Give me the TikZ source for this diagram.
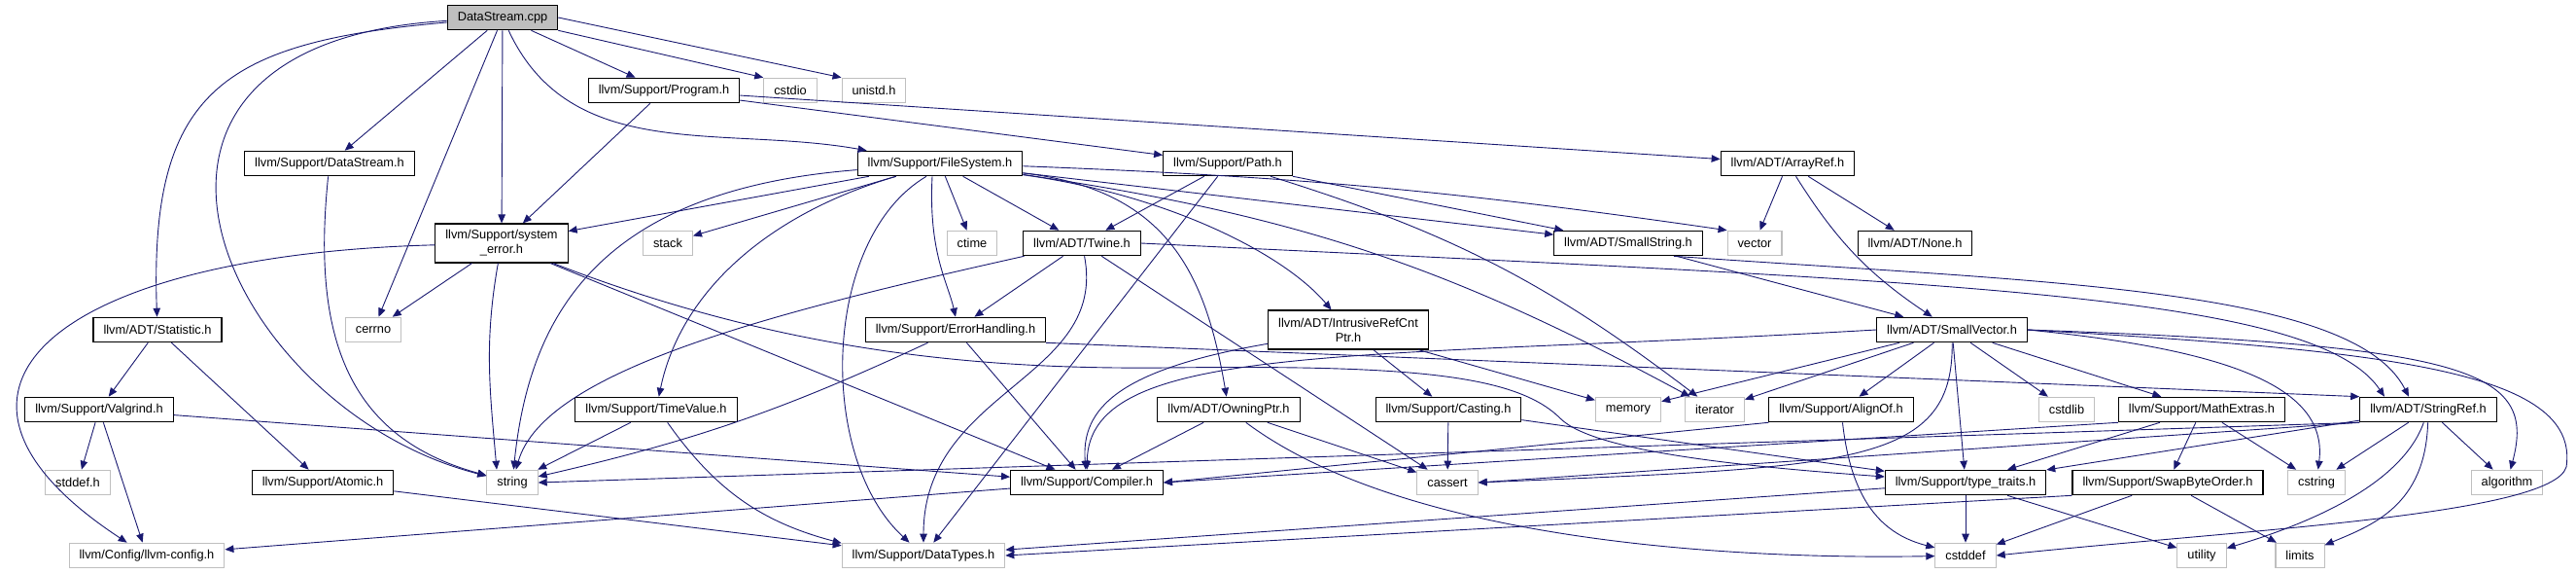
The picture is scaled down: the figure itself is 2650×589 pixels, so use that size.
\documentclass[tikz,border=0pt]{standalone}
\usepackage{fontspec}
\setmainfont{Liberation Sans}
\usepackage{tikz}
\usetikzlibrary{arrows.meta,positioning}
\definecolor{edgeblue}{HTML}{191970}
\definecolor{sysgray} {HTML}{BFBFBF}

\begin{document}
\begin{tikzpicture}[
  hdr/.style ={draw=black,fill=white,line width=1.1pt,inner xsep=10.5pt,inner ysep=2pt,
               minimum height=25.5pt,align=center,font=\fontsize{12.8}{15}\selectfont},
  sys/.style ={hdr,draw=sysgray},
  root/.style={hdr,fill=sysgray},
  two/.style ={hdr,minimum height=40pt},
  arr/.style ={-{Triangle[length=9pt,width=7.5pt]},line width=0.9pt,color=edgeblue},
  x=1pt, y=1pt
]
\useasboundingbox (0,0) rectangle (2650,-589);
%% Row 0: the source file
\node[root] (cpp) at (517,-18) {DataStream.cpp};
%% Row 1
\node[hdr] (program) at (683,-93) {llvm/Support/Program.h};
\node[sys] (cstdio)  at (813,-93) {cstdio};
\node[sys] (unistd)  at (899,-93) {unistd.h};
%% Row 2
\node[hdr] (dsh)      at (339,-168)  {llvm/Support/DataStream.h};
\node[hdr] (filesys)  at (967,-168)  {llvm/Support/FileSystem.h};
\node[hdr] (path)     at (1263,-168) {llvm/Support/Path.h};
\node[hdr] (arrayref) at (1839,-168) {llvm/ADT/ArrayRef.h};
%% Row 3
\node[two] (syserr)   at (516,-250)  {llvm/Support/system\\\_error.h};
\node[sys] (stack)    at (687,-250)  {stack};
\node[sys] (ctime)    at (1000,-250) {ctime};
\node[hdr] (twine)    at (1113,-250) {llvm/ADT/Twine.h};
\node[hdr] (smallstr) at (1675,-250) {llvm/ADT/SmallString.h};
\node[sys] (vector)   at (1805,-250) {vector};
\node[hdr] (none)     at (1970,-250) {llvm/ADT/None.h};
%% Row 4
\node[hdr] (statistic) at (162,-339)  {llvm/ADT/Statistic.h};
\node[sys] (cerrno)    at (384,-339)  {cerrno};
\node[hdr] (errhand)   at (983,-339)  {llvm/Support/ErrorHandling.h};
\node[two] (intrusive) at (1387,-339) {llvm/ADT/IntrusiveRefCnt\\Ptr.h};
\node[hdr] (smallvec)  at (2008,-339) {llvm/ADT/SmallVector.h};
%% Row 5
\node[hdr] (valgrind)  at (102,-421)  {llvm/Support/Valgrind.h};
\node[hdr] (timevalue) at (675,-421)  {llvm/Support/TimeValue.h};
\node[hdr] (owning)    at (1264,-421) {llvm/ADT/OwningPtr.h};
\node[hdr] (casting)   at (1490,-421) {llvm/Support/Casting.h};
\node[sys] (memory)    at (1675,-421) {memory};
\node[sys] (iterator)  at (1764,-421) {iterator};
\node[hdr] (alignof)   at (1894,-421) {llvm/Support/AlignOf.h};
\node[sys] (cstdlib)   at (2126,-421) {cstdlib};
\node[hdr] (mathext)   at (2265,-421) {llvm/Support/MathExtras.h};
\node[hdr] (stringref) at (2498,-421) {llvm/ADT/StringRef.h};
%% Row 6
\node[sys] (stddef)     at (80,-496)   {stddef.h};
\node[hdr] (atomic)     at (332,-496)  {llvm/Support/Atomic.h};
\node[sys] (string)     at (527,-496)  {string};
\node[hdr] (compiler)   at (1118,-496) {llvm/Support/Compiler.h};
\node[sys] (cassert)    at (1489,-496) {cassert};
\node[hdr] (typetraits) at (2022,-496) {llvm/Support/type\_traits.h};
\node[hdr] (swap)       at (2230,-496) {llvm/Support/SwapByteOrder.h};
\node[sys] (cstring)    at (2383,-496) {cstring};
\node[sys] (algorithm)  at (2579,-496) {algorithm};
%% Row 7
\node[sys] (llvmconfig) at (151,-571)  {llvm/Config/llvm-config.h};
\node[sys] (datatypes)  at (950,-571)  {llvm/Support/DataTypes.h};
\node[sys] (cstddef)    at (2022,-571) {cstddef};
\node[sys] (utility)    at (2265,-571) {utility};
\node[sys] (limits)     at (2366,-571) {limits};
%% DataStream.cpp
\draw[arr] (cpp) to[out=185,in=92,looseness=1.4] (statistic);
\draw[arr] (cpp) .. controls (60,-45) and (230,-420) .. (string);
\draw[arr] (cpp) -- (dsh);
\draw[arr] (cpp) -- (cerrno);
\draw[arr] (cpp) -- (syserr);
\draw[arr] (cpp) to[out=-65,in=170] (filesys);
\draw[arr] (cpp) -- (program);
\draw[arr] (cpp.south east) -- (cstdio.north west);
\draw[arr] (cpp.east) -- (unistd.north west);
%% Program.h
\draw[arr] (program) -- (syserr);
\draw[arr] (program) -- (path);
\draw[arr] (program) -- (arrayref);
%% DataStream.h
\draw[arr] (dsh) .. controls (320,-350) and (360,-450) .. (string);
%% FileSystem.h
\draw[arr] (filesys) -- (syserr);
\draw[arr] (filesys) -- (stack);
\draw[arr] (filesys) .. controls (620,-195) and (545,-320) .. (string);
\draw[arr] (filesys) .. controls (790,-220) and (700,-300) .. (timevalue);
\draw[arr] ([xshift=-14pt]filesys.south) .. controls (845,-245) and (840,-470) .. (datatypes);
\draw[arr] ([xshift=-8pt]filesys.south) .. controls (955,-260) and (975,-290) .. (errhand.north);
\draw[arr] (filesys) -- (ctime);
\draw[arr] (filesys) -- (twine);
\draw[arr] (filesys) .. controls (1200,-200) and (1320,-260) .. (intrusive);
\draw[arr] (filesys) .. controls (1200,-195) and (1240,-280) .. (owning);
\draw[arr] (filesys) to[bend left=10] (iterator);
\draw[arr] (filesys) -- (smallstr);
\draw[arr] (filesys) to[bend left=3] (vector.north west);
%% Path.h
\draw[arr] (path) -- (smallstr);
\draw[arr] (path) -- (twine);
\draw[arr] (path) -- (datatypes);
\draw[arr] (path) to[bend left=10] (iterator);
%% ArrayRef.h
\draw[arr] (arrayref) -- (vector);
\draw[arr] (arrayref) -- (none);
\draw[arr] (arrayref) to[bend right=12] (smallvec);
%% system_error.h
\draw[arr] (syserr) .. controls (60,-262) and (-110,-400) .. (llvmconfig);
\draw[arr] (syserr) -- (cerrno);
\draw[arr] (syserr) to[out=-100,in=95] ([xshift=-16pt]string.north);
\draw[arr] (syserr) -- (compiler);
\draw[arr] (syserr) .. controls (800,-360) and (1000,-380) .. (1200,-378)
  .. controls (1450,-375) and (1560,-385) .. (1605,-430)
  .. controls (1640,-465) and (1800,-480) .. (typetraits);
%% Statistic.h, Valgrind.h, Atomic.h
\draw[arr] (statistic) -- (valgrind);
\draw[arr] (statistic) -- (atomic);
\draw[arr] (valgrind) -- (stddef);
\draw[arr] (valgrind) -- (llvmconfig);
\draw[arr] (valgrind) -- (compiler);
\draw[arr] (atomic) -- (datatypes);
%% TimeValue.h
\draw[arr] (timevalue) -- (string);
\draw[arr] (timevalue) to[bend right=20] (datatypes);
%% Twine.h
\draw[arr] (twine) .. controls (800,-320) and (560,-380) .. (string);
\draw[arr] (twine) -- (errhand);
\draw[arr] (twine) .. controls (1140,-390) and (950,-400) .. (datatypes);
\draw[arr] (twine) -- (cassert);
\draw[arr] (twine.east) .. controls (2000,-290) and (2380,-300) .. ([xshift=-45pt]stringref.north);
%% SmallString.h
\draw[arr] (smallstr) -- (smallvec);
\draw[arr] ([xshift=-30pt]smallstr.south east) .. controls (2100,-290) and (2420,-295)
  .. ([xshift=-20pt]stringref.north);
%% ErrorHandling.h
\draw[arr] (errhand) to[bend left=6] (string);
\draw[arr] (errhand) -- (compiler);
\draw[arr] (errhand.south east) -- (stringref.north west);
%% IntrusiveRefCntPtr.h, OwningPtr.h, Casting.h
\draw[arr] (intrusive) -- (casting);
\draw[arr] (intrusive) .. controls (1150,-380) and (1112,-420) .. (compiler);
\draw[arr] (intrusive) -- (memory);
\draw[arr] (owning) -- (compiler);
\draw[arr] (owning) -- (cassert);
\draw[arr] (owning) .. controls (1450,-560) and (1800,-575) .. (cstddef);
\draw[arr] (casting) -- (typetraits);
\draw[arr] (casting) -- (cassert);
%% SmallVector.h
\draw[arr] (smallvec.west) .. controls (1400,-370) and (1120,-350) .. (compiler);
\draw[arr] (smallvec) -- (memory);
\draw[arr] (smallvec) -- (iterator);
\draw[arr] (smallvec) -- (alignof);
\draw[arr] (smallvec) .. controls (2010,-480) and (1900,-480) .. (cassert.east);
\draw[arr] (smallvec) -- (typetraits);
\draw[arr] (smallvec) -- (cstdlib);
\draw[arr] (smallvec) -- (mathext);
\draw[arr] (smallvec.east) .. controls (2300,-360) and (2395,-400) .. (cstring);
\draw[arr] (smallvec.east) .. controls (2540,-355) and (2610,-380) .. (algorithm);
\draw[arr] (smallvec.east) .. controls (2450,-360) and (2655,-380) .. (2640,-480)
  .. controls (2625,-530) and (2300,-545) .. (cstddef.east);
%% AlignOf.h, MathExtras.h
\draw[arr] (alignof.south west) -- (compiler.east);
\draw[arr] (alignof) .. controls (1905,-520) and (1940,-550) .. (cstddef);
\draw[arr] (mathext.south west) -- (compiler.east);
\draw[arr] (mathext) -- (typetraits);
\draw[arr] (mathext) -- (swap);
\draw[arr] (mathext) -- (cstring);
%% StringRef.h
\draw[arr] (stringref.south west) -- (string.east);
\draw[arr] (stringref.south west) -- (cassert.east);
\draw[arr] (stringref) -- (typetraits);
\draw[arr] (stringref) -- (cstring);
\draw[arr] (stringref) -- (algorithm);
\draw[arr] (stringref) .. controls (2470,-500) and (2370,-540) .. (utility);
\draw[arr] (stringref) .. controls (2495,-520) and (2440,-540) .. (limits);
%% Compiler.h, type_traits.h, SwapByteOrder.h
\draw[arr] (compiler) -- (llvmconfig);
\draw[arr] (typetraits) -- (datatypes);
\draw[arr] (typetraits) -- (cstddef);
\draw[arr] (typetraits) -- (utility);
\draw[arr] (swap.south west) -- (datatypes.east);
\draw[arr] (swap) -- (cstddef);
\draw[arr] (swap) -- (limits);
\end{tikzpicture}
\end{document}
